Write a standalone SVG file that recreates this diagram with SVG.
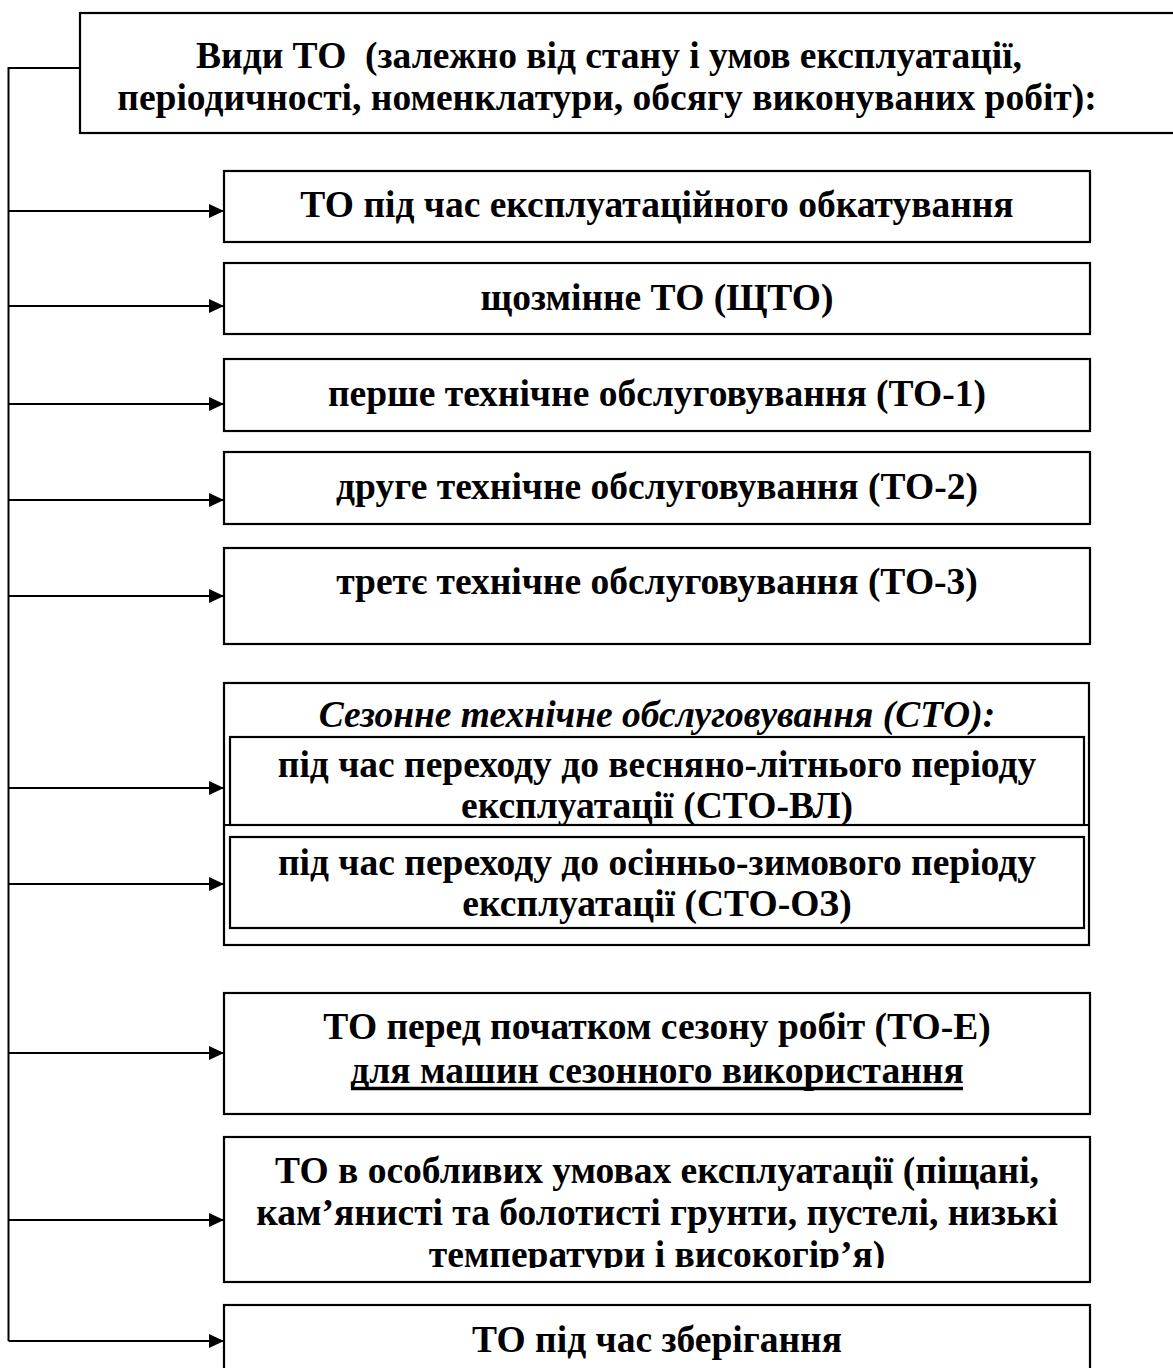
<svg xmlns="http://www.w3.org/2000/svg" width="1173" height="1368" viewBox="0 0 1173 1368">
<style>
.box{fill:#fff;stroke:#000;stroke-width:2.2}
.t{font-family:"Liberation Serif","Times New Roman",serif;font-weight:bold;font-size:37.5px;fill:#000;text-anchor:middle;white-space:pre}
.i{font-style:italic}
.c{fill:none;stroke:#000;stroke-width:2}
</style>
<defs>
<marker id="ah" markerWidth="15" markerHeight="14" refX="15" refY="7" orient="auto" markerUnits="userSpaceOnUse">
<path d="M0,0 L15,7 L0,14 Z" fill="#000"/>
</marker>
<clipPath id="clipSpecial"><rect x="224" y="1137" width="866" height="131"/></clipPath>
</defs>

<g id="connectors">
<path class="c" d="M80,68 H8.5 V1341"/>
<line class="c" x1="8.5" y1="211" x2="224" y2="211" marker-end="url(#ah)"/>
<line class="c" x1="8.5" y1="306" x2="224" y2="306" marker-end="url(#ah)"/>
<line class="c" x1="8.5" y1="404" x2="224" y2="404" marker-end="url(#ah)"/>
<line class="c" x1="8.5" y1="500" x2="224" y2="500" marker-end="url(#ah)"/>
<line class="c" x1="8.5" y1="596" x2="224" y2="596" marker-end="url(#ah)"/>
<line class="c" x1="8.5" y1="788" x2="224" y2="788" marker-end="url(#ah)"/>
<line class="c" x1="8.5" y1="884" x2="224" y2="884" marker-end="url(#ah)"/>
<line class="c" x1="8.5" y1="1053" x2="224" y2="1053" marker-end="url(#ah)"/>
<line class="c" x1="8.5" y1="1220" x2="224" y2="1220" marker-end="url(#ah)"/>
<line class="c" x1="8.5" y1="1341" x2="224" y2="1341" marker-end="url(#ah)"/>
</g>

<g id="root">
<rect class="box" x="80" y="13" width="1100" height="120"/>
<text class="t" x="609" y="68" xml:space="preserve">Види ТО  (залежно від стану і умов експлуатації,</text>
<text class="t" x="607" y="110">періодичності, номенклатури, обсягу виконуваних робіт):</text>
</g>

<g id="n1">
<rect class="box" x="224" y="171" width="866" height="71"/>
<text class="t" x="657" y="217">ТО під час експлуатаційного обкатування</text>
</g>

<g id="n2">
<rect class="box" x="224" y="263" width="866" height="71"/>
<text class="t" x="657" y="310">щозмінне ТО (ЩТО)</text>
</g>

<g id="n3">
<rect class="box" x="224" y="359" width="866" height="72"/>
<text class="t" x="657" y="406">перше технічне обслуговування (ТО-1)</text>
</g>

<g id="n4">
<rect class="box" x="224" y="452" width="866" height="72"/>
<text class="t" x="657" y="499">друге технічне обслуговування (ТО-2)</text>
</g>

<g id="n5">
<rect class="box" x="224" y="548" width="866" height="96"/>
<text class="t" x="657" y="594">третє технічне обслуговування (ТО-3)</text>
</g>

<g id="n6">
<rect class="box" x="224" y="683" width="865" height="262"/>
<text class="t i" x="657" y="727">Сезонне технічне обслуговування (СТО):</text>
<rect class="box" x="230" y="737" width="854" height="88"/>
<line class="c" x1="224" y1="825" x2="1089" y2="825"/>
<text class="t" x="657" y="777">під час переходу до весняно-літнього періоду</text>
<text class="t" x="657" y="818">експлуатації (СТО-ВЛ)</text>
<rect class="box" x="230" y="837" width="854" height="91"/>
<text class="t" x="657" y="875">під час переходу до осінньо-зимового періоду</text>
<text class="t" x="657" y="916">експлуатації (СТО-ОЗ)</text>
</g>

<g id="n7">
<rect class="box" x="224" y="993" width="866" height="121"/>
<text class="t" x="657" y="1039">ТО перед початком сезону робіт (ТО-Е)</text>
<text class="t" x="657" y="1083">для машин сезонного використання</text>
<line x1="351" y1="1088.5" x2="963" y2="1088.5" stroke="#000" stroke-width="3.5"/>
</g>

<g id="n8">
<rect class="box" x="224" y="1137" width="866" height="145"/>
<g clip-path="url(#clipSpecial)">
<text class="t" x="657" y="1183">ТО в особливих умовах експлуатації (піщані,</text>
<text class="t" x="657" y="1225">кам’янисті та болотисті грунти, пустелі, низькі</text>
<text class="t" x="657" y="1267">температури і високогір’я)</text>
</g>
</g>

<g id="n9">
<rect class="box" x="224" y="1305" width="866" height="80"/>
<text class="t" x="657" y="1352">ТО під час зберігання</text>
</g>
</svg>
